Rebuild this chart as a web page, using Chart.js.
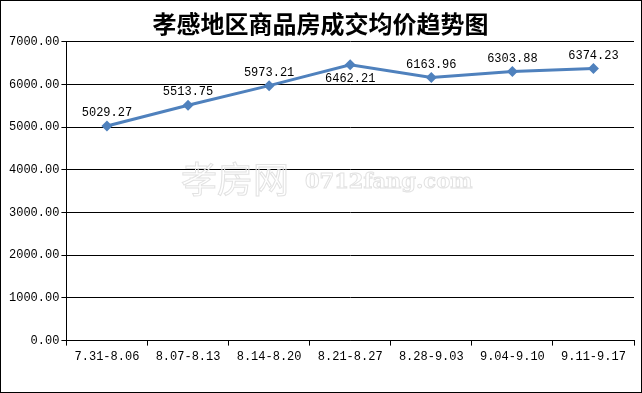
<!DOCTYPE html>
<html>
<head>
<meta charset="utf-8">
<script src="https://cdn.jsdelivr.net/npm/chart.js@4/dist/chart.umd.min.js"></script>
<style>
  html, body { margin: 0; padding: 0; background: #fff; }
  #wrap { width: 642px; height: 393px; box-sizing: border-box; border: 1px solid #000; position: relative; }
  canvas { display: block; }
</style>
</head>
<body>
<div id="wrap"><canvas id="c" width="640" height="391"></canvas></div>
<script>
// weekly periods and average transaction price (元/㎡)
const weeks = ['7.31-8.06', '8.07-8.13', '8.14-8.20', '8.21-8.27', '8.28-9.03', '9.04-9.10', '9.11-9.17'];
const avgPrice = [5029.27, 5513.75, 5973.21, 6462.21, 6163.96, 6303.88, 6374.23];
// labels drawn below the point instead of above
const labelBelow = [false, false, false, true, false, false, false];

const monoFont = { family: '"Liberation Mono", "DejaVu Sans Mono", monospace', size: 12 };

// value labels next to each point
const valueLabels = {
  id: 'valueLabels',
  afterDatasetsDraw(chart) {
    const ctx = chart.ctx;
    const meta = chart.getDatasetMeta(0);
    ctx.save();
    ctx.font = '12px ' + monoFont.family;
    ctx.fillStyle = '#000';
    ctx.textAlign = 'center';
    ctx.textBaseline = 'middle';
    meta.data.forEach((pt, i) => {
      const dy = labelBelow[i] ? 14 : -13;
      ctx.fillText(avgPrice[i].toFixed(2), pt.x, pt.y + dy);
    });
    ctx.restore();
  }
};

// faint outlined site watermark in the middle of the plot
const watermark = {
  id: 'watermark',
  beforeDatasetsDraw(chart) {
    const ctx = chart.ctx;
    ctx.save();
    ctx.strokeStyle = '#e2e2e2';
    ctx.lineWidth = 1;
    ctx.textBaseline = 'middle';
    ctx.font = '36px "Noto Sans CJK SC"';
    ctx.strokeText('孝房网', 180, 178);
    ctx.font = 'bold 21px "DejaVu Serif"';
    ctx.strokeText('0712fang.com', 304, 182);
    ctx.restore();
  }
};

new Chart(document.getElementById('c'), {
  type: 'line',
  data: {
    labels: weeks,
    datasets: [{
      data: avgPrice,
      borderColor: '#4f81bd',
      backgroundColor: '#4f81bd',
      borderWidth: 3,
      pointStyle: 'rectRot',
      pointRadius: 5.5,
      pointBorderWidth: 0,
      tension: 0,
    }],
  },
  options: {
    responsive: false,
    animation: false,
    layout: { padding: { left: 6, right: 7, top: 0, bottom: 24 } },
    plugins: {
      legend: { display: false },
      tooltip: { enabled: false },
      title: {
        display: true,
        text: '孝感地区商品房成交均价趋势图',
        color: '#000',
        font: { family: '"Noto Sans CJK SC"', size: 24, weight: 'bold' },
        padding: { top: 8, bottom: 4 },
      },
    },
    scales: {
      x: {
        offset: true,
        grid: { offset: true, drawOnChartArea: false, drawTicks: true, tickLength: 5, color: '#000' },
        border: { color: '#000', width: 1 },
        ticks: { color: '#000', font: monoFont, padding: 4, maxRotation: 0 },
      },
      y: {
        min: 0,
        max: 7000,
        grid: { color: '#000', tickLength: 5 },
        border: { color: '#000', width: 1 },
        ticks: { stepSize: 1000, color: '#000', font: monoFont, padding: 2, callback: (v) => v.toFixed(2) },
      },
    },
  },
  plugins: [watermark, valueLabels],
});
</script>
</body>
</html>
